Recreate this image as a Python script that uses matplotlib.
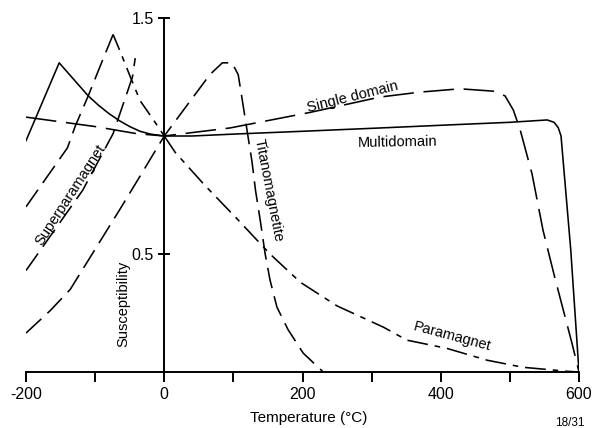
import matplotlib
matplotlib.use("Agg")
import matplotlib.pyplot as plt

plt.rcParams['font.family'] = ['Liberation Sans', 'DejaVu Sans']
plt.rcParams['lines.scale_dashes'] = False

# ---------------- data ----------------
# Multidomain (solid)
md_T = [-200, -152, -140, -125, -110, -95, -80, -65, -50, -35, -20, 0,
        40, 100, 200, 312, 420, 500, 554, 564, 570, 574, 588, 600]
md_y = [0.98, 1.31, 1.27, 1.22, 1.17, 1.13, 1.095, 1.065, 1.04, 1.02, 1.008, 1.0,
        1.0, 1.008, 1.02, 1.034, 1.048, 1.058, 1.068, 1.058, 1.035, 1.0, 0.52, 0.0]

# Single domain (long dash)
sd_T = [-200, -100, -40, 0, 95, 211, 312, 370, 428, 476, 493, 505, 515, 532, 548, 565, 590, 600]
sd_y = [1.08, 1.04, 1.01, 1.0, 1.034, 1.10, 1.165, 1.186, 1.20, 1.19, 1.17, 1.11, 1.025, 0.84, 0.60, 0.40, 0.12, 0.0]

# Titanomagnetite (long dash)
tm_T = [-200, -165, -136, -100, -64, -35, 0, 38, 66, 84, 98, 107, 113, 120, 127,
        132, 139, 146, 153, 163, 179, 201, 230]
tm_y = [0.165, 0.26, 0.35, 0.52, 0.69, 0.83, 1.0, 1.15, 1.26, 1.31, 1.31, 1.26, 1.15, 1.02, 0.89,
        0.77, 0.64, 0.50, 0.39, 0.275, 0.18, 0.08, 0.0]

# Superparamagnet (long dash rising, dash-dot falling)
sp_up_T = [-200, -140, -129, -110, -88, -74]
sp_up_y = [0.70, 0.95, 1.04, 1.17, 1.33, 1.43]
sp_dn_T = [-74, -64, -49, -35, -16, 0]
sp_dn_y = [1.43, 1.36, 1.25, 1.15, 1.07, 1.0]

# Paramagnet (dash-dot)
pm_T = [0, 16, 59, 105, 153, 197, 250, 317, 351, 409, 467, 519, 583, 600]
pm_y = [1.0, 0.93, 0.79, 0.65, 0.50, 0.38, 0.28, 0.19, 0.135, 0.10, 0.05, 0.02, 0.003, 0.0]

# Second superparamagnet branch (long dash)
sp2_T = [-200, -118, -74, -46, -42]
sp2_y = [0.43, 0.77, 1.01, 1.25, 1.33]

x_ticks = [-200, -100, 0, 100, 200, 300, 400, 500, 600]
x_labels = ['-200', '', '0', '', '200', '', '400', '', '600']
y_ticks = [0.5, 1.5]
y_labels = ['0.5', '1.5']

# ---------------- figure ----------------
W, H = 601, 428
fig = plt.figure(figsize=(W / 100, H / 100), dpi=100)
ax = fig.add_axes([26 / W, (H - 372) / H, (579 - 26) / W, (372 - 18) / H])
ax.set_xlim(-200, 600)
ax.set_ylim(0, 1.5)

lw = 1.15
ax.plot(md_T, md_y, color='black', lw=lw, solid_joinstyle='round')
ax.plot(sd_T, sd_y, color='black', lw=lw, dashes=(22, 7))
ax.plot(tm_T, tm_y, color='black', lw=lw, dashes=(15, 6))
ax.plot(sp_up_T, sp_up_y, color='black', lw=lw, dashes=(15, 6))
ax.plot(sp_dn_T, sp_dn_y, color='black', lw=lw, dashes=(12, 5, 4, 5))
ax.plot(pm_T, pm_y, color='black', lw=lw, dashes=(15, 5, 4, 5))
ax.plot(sp2_T, sp2_y, color='black', lw=lw, dashes=(15, 6))

for s in ['top', 'right']:
    ax.spines[s].set_visible(False)
ax.spines['left'].set_position(('data', 0))
ax.spines['bottom'].set_position(('data', 0))
for s in ['left', 'bottom']:
    ax.spines[s].set_linewidth(1.4)
ax.set_xticks(x_ticks)
ax.set_xticklabels(x_labels)
ax.set_yticks(y_ticks)
ax.set_yticklabels(y_labels)
ax.tick_params(axis='x', direction='out', length=7, width=1.4, labelsize=11.5, pad=4)
ax.tick_params(axis='y', direction='inout', length=9, width=1.4, labelsize=11.5, pad=3)
ax.patch.set_visible(False)

def T(px):
    return (px - 164) / (415 / 600)

def Y(py):
    return (372 - py) / 236

fs = 10.5
ax.text(T(309), Y(418), 'Temperature (°C)', ha='center', va='center', fontsize=11, clip_on=False)
ax.text(T(123), Y(304), 'Susceptibility', ha='center', va='center', fontsize=fs, rotation=90)
ax.text(T(70), Y(195), 'Superparamagnet', ha='center', va='center', fontsize=fs, rotation=57)
ax.text(T(268), Y(190), 'Titanomagnetite', ha='center', va='center', fontsize=fs, rotation=-79)
ax.text(T(352), Y(97), 'Single domain', ha='center', va='center', fontsize=fs, rotation=14)
ax.text(T(397), Y(142), 'Multidomain', ha='center', va='center', fontsize=fs, rotation=1)
ax.text(T(452), Y(337), 'Paramagnet', ha='center', va='center', fontsize=fs, rotation=-15)
ax.text(T(570), Y(423), '18/31', ha='center', va='center', fontsize=8.5, clip_on=False)

fig.savefig('out.png', dpi=100)
